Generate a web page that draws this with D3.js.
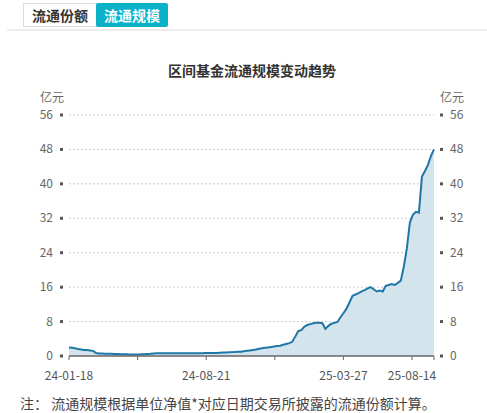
<!DOCTYPE html>
<html><head><meta charset="utf-8">
<script src="https://cdn.jsdelivr.net/npm/d3@7"></script>
<style>body{margin:0;background:#fff;font-family:"Noto Sans CJK SC","Noto Sans",sans-serif;}</style>
</head><body><svg id="c" width="487" height="413"></svg>
<script>
const tabs = ["流通份额", "流通规模"];
const title = "区间基金流通规模变动趋势";
const unit = "亿元";
const note = "注：  流通规模根据单位净值*对应日期交易所披露的流通份额计算。";
const yTicks = [0, 8, 16, 24, 32, 40, 48, 56];
const xTickLabels = ["24-01-18", "", "24-08-21", "", "25-03-27", "25-08-14"];
// values sampled along the period (亿元)
const values = [2.0,1.9,1.8,1.6,1.5,1.4,1.4,1.3,1.2,0.7,0.6,0.6,0.55,0.5,0.5,0.45,0.45,0.4,0.4,0.4,0.35,0.35,0.35,0.35,0.4,0.4,0.45,0.5,0.6,0.65,0.65,0.65,0.65,0.65,0.65,0.65,0.65,0.65,0.65,0.65,0.65,0.65,0.65,0.65,0.65,0.7,0.7,0.7,0.7,0.7,0.75,0.8,0.8,0.85,0.9,0.95,1.0,1.0,1.1,1.2,1.3,1.4,1.5,1.7,1.8,1.9,2.0,2.1,2.2,2.3,2.4,2.6,2.8,3.0,3.3,4.5,5.8,6.0,6.8,7.2,7.4,7.6,7.7,7.7,7.6,6.3,7.0,7.5,7.7,7.9,9.0,10.0,11.0,12.5,14.0,14.3,14.6,15.0,15.3,15.7,16.0,15.5,15.0,15.2,15.0,16.3,16.5,16.7,16.5,17.0,17.5,20.8,25.0,31.0,32.8,33.5,33.3,41.7,43.0,44.4,46.5,48.0];

const svg = d3.select("#c");
svg.append("rect").attr("x",23.5).attr("y",3.5).attr("width",73).attr("height",23).attr("fill","#fff").attr("stroke","#ddd");
svg.append("rect").attr("x",96).attr("y",3).attr("width",72).attr("height",24).attr("rx",2).attr("fill","#0ab1c9");
svg.append("text").attr("x",60).attr("y",21).attr("text-anchor","middle").attr("font-size",14).attr("font-weight","bold").attr("fill","#333").text(tabs[0]);
svg.append("text").attr("x",132).attr("y",21).attr("text-anchor","middle").attr("font-size",14).attr("font-weight","bold").attr("fill","#fff").text(tabs[1]);
svg.append("line").attr("x1",7).attr("x2",487).attr("y1",30).attr("y2",30).attr("stroke","#e6e6e6").attr("stroke-width",1.5);
svg.append("text").attr("x",252).attr("y",76).attr("text-anchor","middle").attr("font-size",14).attr("font-weight","bold").attr("fill","#333").text(title);

const x0=69, x1=434, yTop=115, yBot=356;
const x = d3.scaleLinear().domain([0, values.length-1]).range([x0, x1]);
const y = d3.scaleLinear().domain([0,56]).range([yBot, yTop]);

svg.append("text").attr("x",40).attr("y",102).attr("font-size",12).attr("fill","#666").text(unit);
svg.append("text").attr("x",440).attr("y",102).attr("font-size",12).attr("fill","#666").text(unit);

yTicks.forEach(t=>{
  const yy=y(t);
  if(t>0) svg.append("line").attr("x1",x0).attr("x2",x1).attr("y1",yy).attr("y2",yy).attr("stroke","#ccc").attr("stroke-dasharray","2,2");
  svg.append("rect").attr("x",60).attr("y",yy-1.5).attr("width",3).attr("height",3).attr("fill","#555");
  svg.append("rect").attr("x",440).attr("y",yy-1.5).attr("width",3).attr("height",3).attr("fill","#555");
  svg.append("text").attr("x",53).attr("y",yy+4).attr("text-anchor","end").attr("font-size",12).attr("fill","#666").text(t);
  svg.append("text").attr("x",450).attr("y",yy+4).attr("font-size",12).attr("fill","#666").text(t);
});

const area = d3.area().x((d,i)=>x(i)).y0(yBot).y1(d=>y(d));
const line = d3.line().x((d,i)=>x(i)).y(d=>y(d));
svg.append("path").datum(values).attr("d",area).attr("fill","#d3e4ec");
svg.append("path").datum(values).attr("d",line).attr("fill","none").attr("stroke","#1f77a8").attr("stroke-width",2);

svg.append("line").attr("x1",x0).attr("x2",x1).attr("y1",yBot).attr("y2",yBot).attr("stroke","#666").attr("stroke-width",1.5);
const span = 68.6;
xTickLabels.forEach((l,i)=>{
  const xx = x0 + i*span;
  svg.append("line").attr("x1",xx).attr("x2",xx).attr("y1",yBot).attr("y2",yBot+4).attr("stroke","#666");
  if(l) svg.append("text").attr("x",xx).attr("y",380).attr("text-anchor","middle").attr("font-size",12).attr("fill","#555").text(l);
});
svg.append("line").attr("x1",x1).attr("x2",x1).attr("y1",yBot).attr("y2",yBot+4).attr("stroke","#666");
svg.append("text").attr("x",20).attr("y",409).attr("font-size",14).attr("fill","#444").text(note);
</script></body></html>
